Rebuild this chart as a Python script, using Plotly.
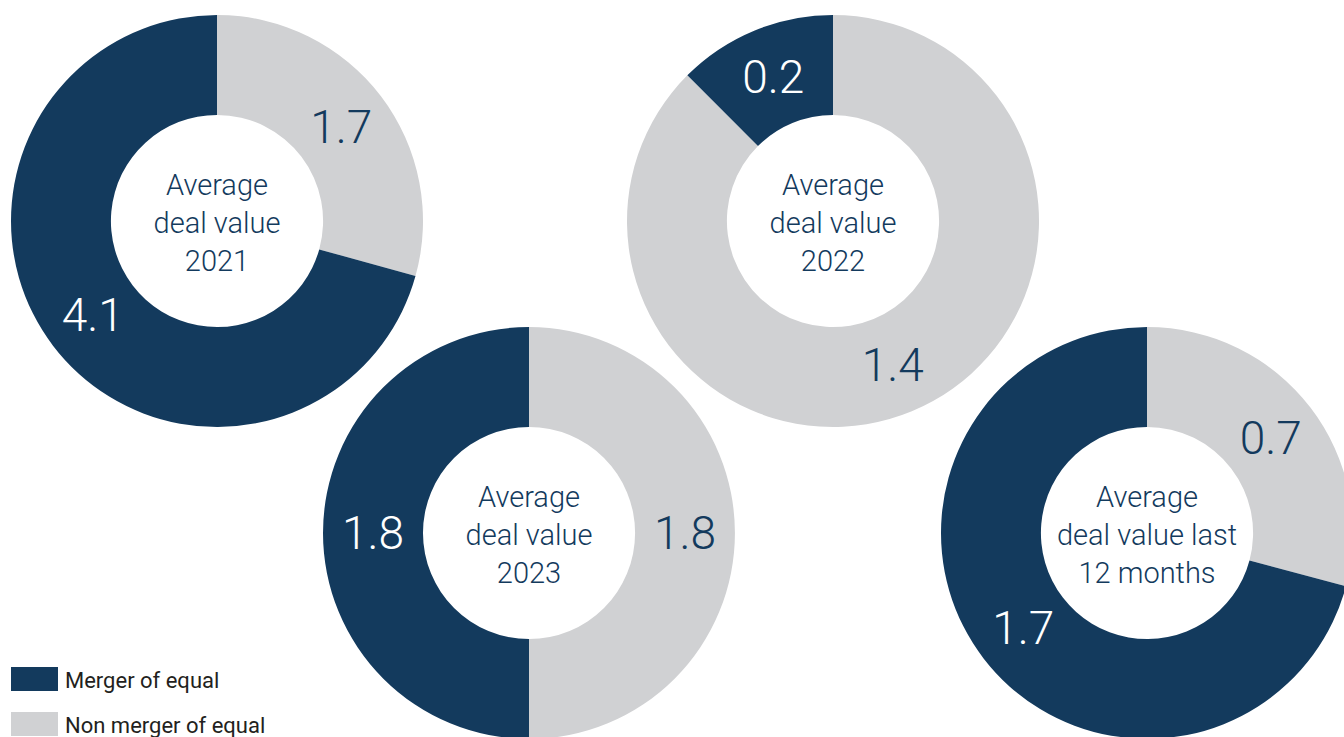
import plotly.graph_objects as go

# ---- data ----
categories = ["Non merger of equal", "Merger of equal"]
periods = ["2021", "2022", "2023", "last 12 months"]
titles = ["Average<br>deal value<br>2021", "Average<br>deal value<br>2022",
          "Average<br>deal value<br>2023", "Average<br>deal value last<br>12 months"]
non_merger = [1.7, 1.4, 1.8, 0.7]
merger = [4.1, 0.2, 1.8, 1.7]

NAVY = "#133a5d"
GREY = "#d0d1d3"
FONT = "Roboto"

W, H = 1360, 750
# donut centres (pixels from top-left) and outer radius
centres = [(217, 221), (833, 221), (529, 533), (1147, 533)]
R = 206

def px(x):
    return x / W

def py(y):
    return 1 - y / H

fig = go.Figure()
for i, (cx, cy) in enumerate(centres):
    fig.add_trace(go.Pie(
        labels=categories,
        values=[non_merger[i], merger[i]],
        sort=False,
        direction="clockwise",
        rotation=0,
        hole=0.515,
        marker=dict(colors=[GREY, NAVY], line=dict(width=0)),
        textinfo="value",
        textposition="inside",
        insidetextorientation="horizontal",
        textfont=dict(family=FONT, size=46, color=[NAVY, "white"], weight=300),
        title=dict(text=titles[i], position="middle center",
                   font=dict(family=FONT, size=29, color=NAVY, weight=300)),
        domain=dict(x=[px(cx - R), px(cx + R)], y=[py(cy + R), py(cy - R)]),
        showlegend=False,
        hoverinfo="label+value",
    ))

# legend drawn manually
leg_items = [("Merger of equal", NAVY, 667), ("Non merger of equal", GREY, 712)]
for name, col, top in leg_items:
    fig.add_shape(type="rect", xref="paper", yref="paper",
                  x0=px(11), x1=px(58), y0=py(top + 24), y1=py(top),
                  fillcolor=col, line=dict(width=0))
    fig.add_annotation(xref="paper", yref="paper", x=px(63), y=py(top + 13),
                       xanchor="left", yanchor="middle", showarrow=False,
                       text=name, font=dict(family=FONT, size=22, color="#231f20", weight=400))

fig.update_layout(
    width=W, height=H,
    margin=dict(l=0, r=0, t=0, b=0),
    paper_bgcolor="white", plot_bgcolor="white",
    uniformtext=dict(minsize=46, mode="show"),
)

fig.write_html("out.html", config={"displayModeBar": False},
               post_script="document.body.style.margin='0';document.body.style.overflow='hidden';document.documentElement.style.overflow='hidden';")
